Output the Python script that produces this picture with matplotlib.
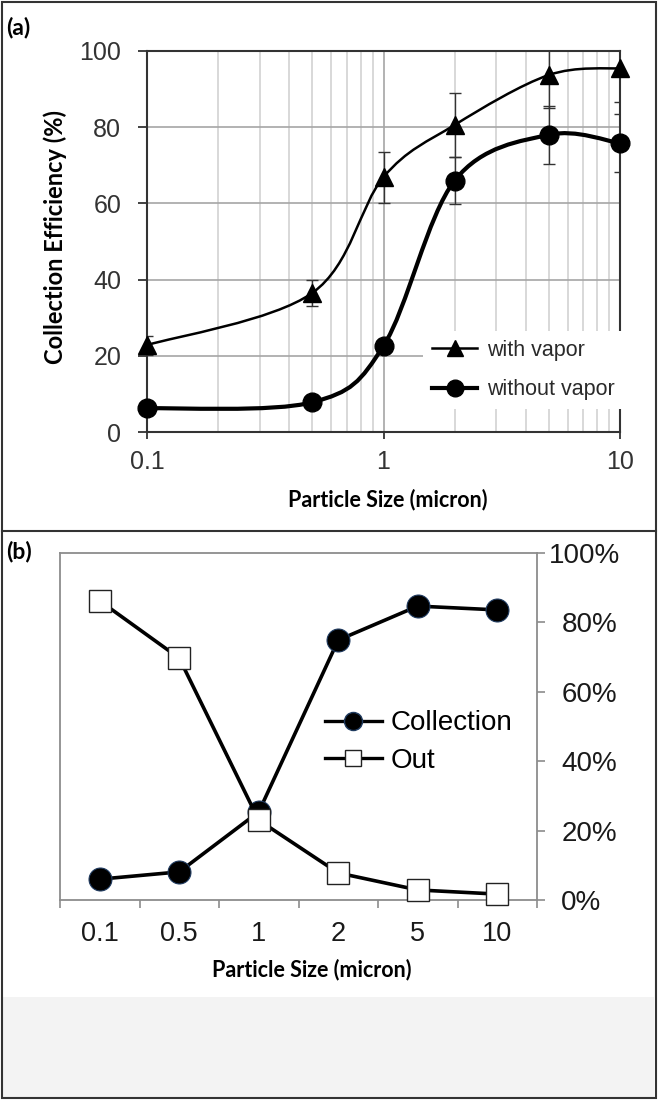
import numpy as np
import matplotlib
matplotlib.use('Agg')
import matplotlib.pyplot as plt
from matplotlib.path import Path
from matplotlib.patches import PathPatch, Rectangle
from matplotlib.lines import Line2D
from matplotlib.ticker import LogLocator, NullFormatter, FixedLocator
from matplotlib.transforms import ScaledTranslation

# ---------------- data ----------------
sizes_a = [0.1, 0.5, 1, 2, 5, 10]
with_vapor = [22.8, 36.5, 66.9, 80.6, 93.7, 95.5]
with_vapor_err = [2.5, 3.5, 6.7, 8.4, 8.7, 9.0]
without_vapor = [6.2, 7.8, 22.6, 66.0, 78.0, 75.8]
without_vapor_err = [1.0, 1.0, 1.5, 6.2, 7.6, 7.6]
a_xticks = [0.1, 1, 10]
a_xticklabels = ['0.1', '1', '10']
a_yticks = [0, 20, 40, 60, 80, 100]

size_labels_b = ['0.1', '0.5', '1', '2', '5', '10']
collection = [6.0, 8.1, 25.4, 74.9, 84.7, 83.6]
out = [86.2, 69.7, 23.0, 7.8, 2.9, 1.7]
b_yticks = [0, 20, 40, 60, 80, 100]

SANS = ['Liberation Sans', 'DejaVu Sans']
BOLD = ['Lato', 'DejaVu Sans']

W, H = 658, 1100
fig = plt.figure(figsize=(W / 100, H / 100), dpi=100)
fig.patch.set_facecolor('white')


def px_rect(l, t, r, b):
    return [l / W, 1 - b / H, (r - l) / W, (b - t) / H]


# frame, divider, grey strip
fig.patches.append(Rectangle((3 / W, 1 - 1097 / H), 651 / W, 100 / H,
                             transform=fig.transFigure, facecolor='#f3f3f3',
                             edgecolor='none', zorder=-5))
fig.patches.append(Rectangle((2 / W, 1 - 1098 / H), 654 / W, 1096 / H,
                             transform=fig.transFigure, fill=False,
                             edgecolor='#333333', lw=1.5, zorder=10))
fig.lines.append(Line2D([2 / W, 656 / W], [1 - 531 / H] * 2,
                        transform=fig.transFigure, color='#333333', lw=1.5, zorder=10))

fig.text(6 / W, 1 - 28 / H, '(a)', fontsize=16.5, fontweight='bold', family=BOLD,
         ha='left', va='center')
fig.text(6 / W, 1 - 552 / H, '(b)', fontsize=16.5, fontweight='bold', family=BOLD,
         ha='left', va='center')


def smooth_path(xs, ys):
    u = np.log10(np.asarray(xs, float))
    v = np.asarray(ys, float)
    P = np.column_stack([u, v])
    n = len(P)
    verts = [P[0]]
    codes = [Path.MOVETO]
    for i in range(n - 1):
        p0 = P[i - 1] if i > 0 else P[i]
        p1, p2 = P[i], P[i + 1]
        p3 = P[i + 2] if i + 2 < n else P[i + 1]
        c1 = p1 + (p2 - p0) / 6.0
        c2 = p2 - (p3 - p1) / 6.0
        verts += [c1, c2, p2]
        codes += [Path.CURVE4] * 3
    verts = np.array(verts)
    verts[:, 0] = 10 ** verts[:, 0]
    return Path(verts, codes)


# ---------------- panel (a) ----------------
axA = fig.add_axes(px_rect(147, 51, 620, 432))
axA.set_xscale('log')
axA.set_xlim(0.1, 10)
axA.set_ylim(0, 100)
axA.xaxis.set_major_locator(FixedLocator(a_xticks))
axA.set_xticklabels(a_xticklabels)
axA.xaxis.set_minor_locator(LogLocator(base=10, subs=np.arange(2, 10)))
axA.xaxis.set_minor_formatter(NullFormatter())
axA.set_yticks(a_yticks)
axA.grid(which='major', axis='both', color='#a6a6a6', lw=1.2, zorder=0)
axA.grid(which='minor', axis='x', color='#d2d2d2', lw=1.2, zorder=0)
axA.set_axisbelow(True)
axA.tick_params(which='minor', length=0)
axA.tick_params(axis='x', which='major', length=5, width=1.3, color='#333333',
                labelsize=18, labelcolor='#333333', pad=8)
axA.tick_params(axis='y', which='major', length=6.5, width=1.3, color='#333333',
                labelsize=18, labelcolor='#333333', pad=12)
for lab in axA.get_xticklabels() + axA.get_yticklabels():
    lab.set_family(SANS)
for s in axA.spines.values():
    s.set_color('#333333')
    s.set_linewidth(1.5)

axA.add_patch(PathPatch(smooth_path(sizes_a, with_vapor), fill=False,
                        edgecolor='black', lw=1.8, zorder=3))
axA.add_patch(PathPatch(smooth_path(sizes_a, without_vapor), fill=False,
                        edgecolor='black', lw=3.0, zorder=3))
axA.errorbar(sizes_a, with_vapor, yerr=with_vapor_err, fmt='none', ecolor='#333333',
             elinewidth=1.0, capsize=4.5, capthick=1.0, zorder=4)
axA.errorbar(sizes_a, without_vapor, yerr=without_vapor_err, fmt='none',
             ecolor='#333333', elinewidth=1.0, capsize=4.5, capthick=1.0, zorder=4)
axA.plot(sizes_a, with_vapor, linestyle='none', marker='^', ms=13.5, color='black',
         clip_on=False, zorder=5)
axA.plot(sizes_a, without_vapor, linestyle='none', marker='o', ms=13.5, color='black',
         clip_on=False, zorder=5)

hA = [Line2D([], [], color='black', lw=1.8, marker='^', ms=11),
      Line2D([], [], color='black', lw=3.0, marker='o', ms=12)]
legA = axA.legend(hA, ['with vapor', 'without vapor'], loc='center left',
                  bbox_to_anchor=((432 - 147) / 473 - 0.018, (432 - 370) / 381),
                  frameon=True, facecolor='white', edgecolor='none', framealpha=1,
                  fancybox=False, borderaxespad=0, borderpad=0.4,
                  handlelength=2.1, handletextpad=0.45, labelspacing=0.85,
                  prop={'family': SANS, 'size': 15.5})
for t in legA.get_texts():
    t.set_color('#2a2a2a')

axA.set_xlabel('Particle Size (micron)', fontsize=15.5, fontweight='bold', family=BOLD)
axA.xaxis.set_label_coords((388 - 147) / 473, (432 - 500) / 381)
axA.xaxis.label.set_va('center')
axA.set_ylabel('Collection Efficiency (%)', fontsize=17, fontweight='bold', family=BOLD)
axA.yaxis.set_label_coords((55 - 147) / 473, (432 - 237) / 381)
axA.yaxis.label.set_va('center')

# ---------------- panel (b) ----------------
axB = fig.add_axes(px_rect(60, 553, 537, 900))
xb = np.arange(len(size_labels_b))
axB.set_xlim(-0.5, len(size_labels_b) - 0.5)
axB.set_ylim(0, 100)
axB.plot(xb, collection, '-o', color='black', lw=2.6, ms=16.5, mfc='black',
         mec='#1f3a5f', mew=0.8, clip_on=False, zorder=4)
axB.plot(xb, out, '-s', color='black', lw=2.6, ms=16, mfc='white',
         mec='#222222', mew=1.0, clip_on=False, zorder=5)

axB.set_xticks(np.arange(-0.5, len(size_labels_b), 1.0))
axB.set_xticklabels([''] * (len(size_labels_b) + 1))
axB.set_xticks(xb, minor=True)
axB.set_xticklabels(size_labels_b, minor=True)
axB.tick_params(axis='x', which='major', length=6, width=1.2, color='#8c8c8c')
axB.tick_params(axis='x', which='minor', length=0, labelsize=19.5, pad=15,
                labelcolor='#1a1a1a')
axB.yaxis.tick_right()
axB.set_yticks(b_yticks)
axB.set_yticklabels([f'{v}%' for v in b_yticks])
axB.tick_params(axis='y', which='major', length=6, width=1.2, color='#8c8c8c',
                labelsize=20, labelcolor='#1a1a1a', pad=11.5)
for lab in axB.get_xticklabels(minor=True) + axB.get_yticklabels():
    lab.set_family(SANS)
for s in axB.spines.values():
    s.set_color('#8c8c8c')
    s.set_linewidth(1.3)
# the widest label ("100%") sits a little further left in the original
top_tick = axB.yaxis.get_major_ticks()[-1]
top_tick.label2.set_transform(top_tick.label2.get_transform()
                              + ScaledTranslation(-0.12, 0, fig.dpi_scale_trans))

hB = [Line2D([], [], color='black', lw=2.4, marker='o', ms=13, mec='#1f3a5f'),
      Line2D([], [], color='black', lw=2.4, marker='s', ms=11.5, mfc='white', mec='#222222')]
axB.legend(hB, ['Collection', 'Out'], loc='center left',
           bbox_to_anchor=((325 - 60) / 477, (900 - 742) / 347),
           frameon=False, borderaxespad=0, borderpad=0,
           handlelength=2.05, handletextpad=0.3, labelspacing=0.4,
           prop={'family': SANS, 'size': 20})

axB.set_xlabel('Particle Size (micron)', fontsize=15.5, fontweight='bold', family=BOLD)
axB.xaxis.set_label_coords((311.5 - 60) / 477, (900 - 970) / 347)
axB.xaxis.label.set_va('center')

fig.savefig('out.png', dpi=100)
